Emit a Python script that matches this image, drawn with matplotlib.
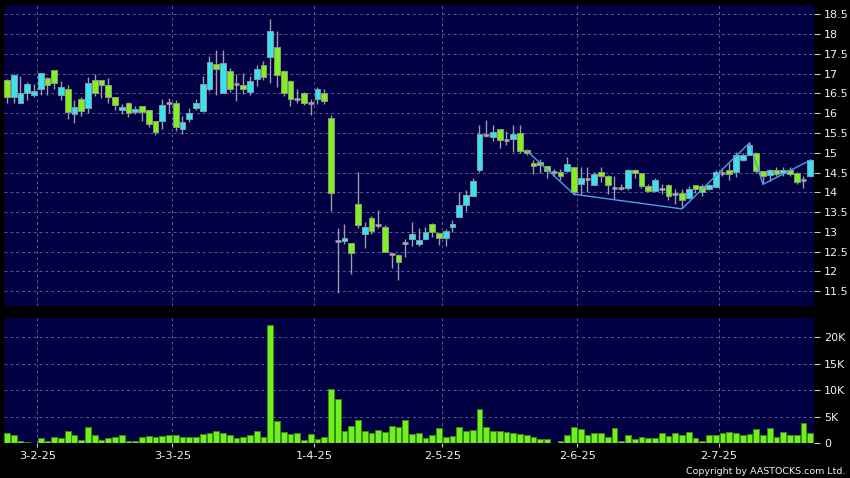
import matplotlib
matplotlib.use('Agg')
import matplotlib.pyplot as plt
from matplotlib import font_manager
import numpy as np

# Daily OHLC (HKD), first bar = 22 Jan 2025
opens = [16.84, 16.42, 16.25, 16.50, 16.45, 16.61, 16.89, 17.08, 16.45, 16.62,
         15.97, 16.35, 16.12, 16.83, 16.83, 16.72, 16.40, 16.07, 16.25, 16.02,
         16.17, 16.07, 15.80, 15.80, 16.25, 16.27, 15.59, 15.86, 16.12, 16.05,
         16.62, 17.24, 16.52, 17.06, 16.73, 16.70, 16.54, 16.86, 17.21, 17.41,
         17.67, 17.07, 16.81, 16.37, 16.52, 16.25, 16.35, 16.52, 15.88, 12.77,
         12.77, 12.72, 13.70, 12.95, 13.36, 13.16, 13.12, 12.43, 12.42, 12.73,
         12.82, 12.70, 12.82, 13.21, 12.97, 12.85, 13.12, 13.38, 13.68, 13.91,
         14.56, 15.44, 15.40, 15.59, 15.33, 15.34, 15.51, 15.08, 14.74, 14.76,
         14.66, 14.51, 14.51, 14.54, 14.63, 14.20, 14.34, 14.18, 14.51, 14.42,
         14.12, 14.12, 14.12, 14.57, 14.49, 14.17, 14.03, 14.08, 14.18, 13.95,
         13.98, 13.86, 14.18, 14.17, 14.08, 14.13, 14.49, 14.57, 14.51, 14.81,
         14.93, 15.00, 14.54, 14.44, 14.57, 14.49, 14.57, 14.49, 14.30, 14.40]
highs = [16.86, 16.98, 16.94, 16.79, 16.74, 17.02, 16.92, 17.09, 16.81, 16.72,
         16.34, 16.40, 16.91, 16.98, 16.84, 16.89, 16.41, 16.24, 16.29, 16.18,
         16.18, 16.08, 15.81, 16.37, 16.38, 16.34, 15.93, 16.13, 16.35, 16.93,
         17.45, 17.61, 17.61, 17.15, 17.00, 17.01, 16.93, 17.21, 17.31, 18.39,
         18.07, 17.08, 16.83, 16.60, 16.53, 16.35, 16.65, 16.60, 15.95, 13.09,
         13.21, 12.73, 14.52, 13.26, 13.40, 13.54, 13.17, 12.47, 12.43, 12.82,
         13.24, 13.09, 13.11, 13.22, 12.98, 13.06, 13.31, 14.00, 14.07, 14.35,
         15.69, 15.83, 15.69, 15.60, 15.54, 15.69, 15.69, 15.09, 14.81, 14.85,
         14.67, 14.59, 14.59, 14.90, 14.64, 14.64, 14.64, 14.52, 14.64, 14.43,
         14.42, 14.20, 14.58, 14.58, 14.50, 14.20, 14.35, 14.20, 14.20, 14.08,
         14.08, 14.17, 14.19, 14.20, 14.22, 14.57, 14.61, 14.73, 15.02, 15.00,
         15.25, 15.01, 14.55, 14.59, 14.63, 14.64, 14.64, 14.52, 14.42, 14.85]
lows = [16.25, 16.25, 16.25, 16.34, 16.42, 16.45, 16.45, 16.60, 16.34, 15.85,
        15.76, 15.93, 16.00, 16.44, 16.39, 16.25, 16.08, 15.99, 15.91, 15.97,
        15.80, 15.65, 15.46, 15.59, 16.00, 15.54, 15.47, 15.77, 16.07, 16.02,
        16.55, 16.46, 16.50, 16.54, 16.32, 16.48, 16.46, 16.69, 16.85, 16.76,
        16.67, 16.43, 16.18, 16.25, 16.20, 15.96, 16.23, 16.23, 13.53, 11.46,
        12.70, 11.94, 13.10, 12.60, 12.95, 13.10, 12.48, 12.08, 11.78, 12.37,
        12.65, 12.65, 12.82, 12.87, 12.67, 12.63, 12.99, 13.38, 13.53, 13.91,
        14.51, 15.39, 15.29, 15.12, 15.19, 15.02, 15.00, 14.95, 14.47, 14.49,
        14.35, 14.42, 14.30, 14.51, 13.93, 13.93, 14.00, 14.18, 14.27, 13.96,
        13.83, 14.05, 14.06, 14.37, 14.10, 14.00, 14.00, 13.95, 13.81, 13.70,
        13.61, 13.83, 13.98, 13.91, 14.05, 14.13, 14.40, 14.30, 14.39, 14.78,
        14.93, 14.49, 14.23, 14.29, 14.42, 14.42, 14.42, 14.20, 14.12, 14.39]
closes = [16.42, 16.96, 16.50, 16.74, 16.56, 17.01, 16.71, 16.76, 16.66, 16.03,
          16.15, 16.05, 16.77, 16.52, 16.72, 16.40, 16.20, 16.15, 16.00, 16.10,
          16.02, 15.73, 15.53, 16.20, 16.25, 15.64, 15.78, 16.00, 16.25, 16.74,
          17.30, 17.11, 17.26, 16.62, 16.73, 16.60, 16.81, 17.11, 16.91, 18.07,
          16.96, 16.50, 16.37, 16.37, 16.25, 16.25, 16.62, 16.32, 13.99, 12.77,
          12.85, 12.47, 13.16, 13.12, 13.02, 13.16, 12.48, 12.43, 12.23, 12.73,
          12.94, 12.80, 12.99, 12.99, 12.85, 13.01, 13.21, 13.68, 13.93, 14.28,
          15.47, 15.44, 15.52, 15.32, 15.33, 15.47, 15.04, 14.99, 14.66, 14.68,
          14.54, 14.51, 14.40, 14.71, 14.00, 14.35, 14.34, 14.47, 14.42, 14.18,
          14.12, 14.12, 14.57, 14.49, 14.17, 14.03, 14.32, 14.08, 13.91, 13.95,
          13.81, 14.08, 14.08, 14.00, 14.18, 14.51, 14.49, 14.47, 14.93, 14.93,
          15.20, 14.54, 14.42, 14.57, 14.47, 14.57, 14.47, 14.25, 14.30, 14.81]

# volume in thousands of shares
volume = [2.0, 1.5, 0.5, 0.25, 0.15, 1.0, 0.5, 1.25, 1.0, 2.4,
          1.5, 0.6, 3.1, 1.6, 0.6, 1.0, 1.1, 1.5, 0.5, 0.5,
          1.1, 1.4, 1.25, 1.4, 1.5, 1.5, 1.1, 1.1, 1.1, 1.75,
          2.0, 2.25, 1.9, 1.6, 1.0, 1.1, 1.5, 2.4, 1.25, 22.3,
          4.15, 2.15, 1.75, 1.9, 0.6, 1.75, 0.9, 1.25, 10.3, 8.4,
          2.4, 3.3, 4.4, 2.25, 2.0, 2.5, 2.15, 3.3, 3.0, 4.4,
          1.75, 1.9, 0.95, 1.5, 2.9, 1.1, 1.4, 3.0, 2.25, 2.5,
          6.5, 3.15, 2.25, 2.25, 2.15, 1.9, 1.75, 1.5, 1.25, 0.75,
          0.9, 0.1, 0.5, 1.5, 3.15, 2.75, 1.5, 1.9, 1.9, 1.1,
          2.9, 0.5, 1.5, 0.75, 1.25, 1.0, 1.0, 1.9, 1.4, 1.9,
          1.5, 2.15, 1.0, 0.5, 1.5, 1.5, 1.9, 2.15, 1.9, 1.5,
          1.75, 2.75, 1.5, 2.9, 1.25, 2.15, 1.5, 1.5, 3.8, 2.0]

# month-start bars and their labels
date_idx = [5, 25, 46, 65, 85, 106]
date_labels = ['3-2-25', '3-3-25', '1-4-25', '2-5-25', '2-6-25', '2-7-25']

# zigzag swing line (bar index, price)
zz_idx = [77, 84, 100, 110, 112, 119]
zz_price = [15.05, 13.95, 13.58, 15.25, 14.20, 14.81]

price_ticks = np.arange(11.5, 18.51, 0.5)
vol_ticks = [0, 5, 10, 15, 20]

######## STYLE #########
BG = '#000042'
GRID = '#5a5a92'
UP = '#36e4f0'
DOWN = '#80f01e'
WICK = '#9c9cac'
TXT = '#f0f0f0'

# narrower face for the copyright line, if it is there
names = {f.name for f in font_manager.fontManager.ttflist}
cond = ['DejaVu Sans Condensed', 'DejaVu Sans'] if 'DejaVu Sans Condensed' in names else ['DejaVu Sans']

fig = plt.figure(figsize=(8.5, 4.78), dpi=100, facecolor='black')
ax = fig.add_axes([0.0047, 0.3598, 0.9533, 0.6297], facecolor=BG)
axv = fig.add_axes([0.0047, 0.0726, 0.9533, 0.2615], facecolor=BG, sharex=ax)

o = np.array(opens); h = np.array(highs); l = np.array(lows); c = np.array(closes)
x = np.arange(len(o))
w = 0.84

# wicks
ax.vlines(x, l, h, color=WICK, lw=1.0, zorder=2)
up = c > o
dn = c < o
dj = c == o
ax.bar(x[up], (c - o)[up], bottom=o[up], width=w, color=UP, edgecolor='#8a9aa0', lw=0.7, zorder=3)
ax.bar(x[dn], (o - c)[dn], bottom=c[dn], width=w, color=DOWN, edgecolor='#8a9a80', lw=0.7, zorder=3)
ax.hlines(c[dj], x[dj] - w/2, x[dj] + w/2, color='#a8a8a8', lw=1.8, zorder=3)

ax.plot(zz_idx, zz_price, color='#4f9fe6', lw=1.0, zorder=4)

axv.bar(x, volume, width=0.88, color='#70f01c', edgecolor='#3a8a14', lw=0.7, zorder=3)

for a in (ax, axv):
    for s in a.spines.values():
        s.set_visible(False)
    for d in date_idx:
        a.axvline(d - 0.5, color=GRID, lw=0.7, ls=(0, (3, 3)), zorder=1)
    a.yaxis.tick_right()
    a.tick_params(axis='y', colors='#c8c8c8', labelcolor=TXT, length=4, width=0.8,
                  pad=3, labelsize=8)
    a.grid(axis='y', color=GRID, lw=0.7, ls=(0, (3, 3)), zorder=1)

ax.set_xlim(-0.44, 119.6)
ax.set_ylim(11.124, 18.735)
ax.set_yticks(price_ticks)
ax.set_yticklabels(['%g' % p for p in price_ticks])
ax.tick_params(axis='x', bottom=False, labelbottom=False)

axv.set_ylim(0, 23.6)
axv.set_yticks(vol_ticks)
axv.set_yticklabels(['0' if v == 0 else '%dK' % v for v in vol_ticks])
axv.set_xticks([d - 0.5 for d in date_idx])
axv.set_xticklabels(date_labels)
axv.tick_params(axis='x', colors='#c8c8c8', labelcolor=TXT, length=3, width=0.8,
                pad=2.5, labelsize=8.2)

fig.text(0.994, 0.004, 'Copyright by AASTOCKS.com Ltd.', color=TXT,
         fontsize=7.5 if len(cond) == 2 else 6.8, family=cond,
         ha='right', va='bottom')

fig.savefig('out.png', dpi=100, facecolor='black')
